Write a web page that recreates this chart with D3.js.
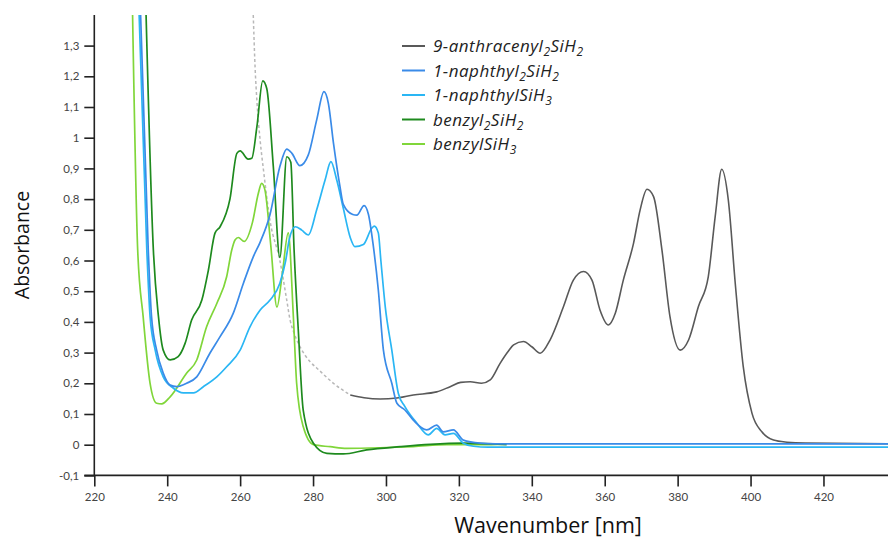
<!DOCTYPE html>
<html>
<head>
<meta charset="utf-8">
<script src="https://cdn.jsdelivr.net/npm/d3@7"></script>
<style>
  html, body { margin: 0; padding: 0; background: #fff; }
  svg { display: block; }
</style>
</head>
<body>
<svg id="chart" width="888" height="539"></svg>
<script>
// UV-Vis absorbance spectra: [wavelength (nm), absorbance]
const anthracenyl2SiH2 = [
  [263.6,1.40],[264.1,1.23],[264.6,1.12],[265.5,0.99],[266.4,0.895],[268.2,0.73],[270.9,0.60],
  [272.8,0.47],[273.7,0.406],[274.6,0.37],[276.4,0.32],[279.2,0.27],[281,0.25],[285.6,0.20],
  [290.2,0.162],[294,0.153],[298.4,0.149],[303,0.152],[307.5,0.162],[313.9,0.172],[317.6,0.189],
  [320.5,0.203],[323.1,0.205],[326.2,0.2],[328.6,0.211],[331.3,0.265],[333.6,0.305],[335,0.325],
  [337.7,0.336],[340,0.319],[342.3,0.298],[345,0.341],[348.7,0.45],[351.4,0.536],[354.2,0.564],
  [356.5,0.536],[358.7,0.439],[361,0.39],[362.9,0.428],[365.1,0.536],[367.9,0.656],[369.7,0.764],
  [371.6,0.832],[373.4,0.808],[375.7,0.634],[377.9,0.417],[380.7,0.308],[383,0.341],[385.7,0.45],
  [388.4,0.547],[390.3,0.743],[392.1,0.897],[393.9,0.797],[395.8,0.526],[398,0.254],[400.4,0.102],
  [403.1,0.042],[406.3,0.015],[410,0.008],[415,0.005],[437.7,0.003]
];
// below this wavelength the anthracenyl trace is drawn dashed
const anthracenylDashedUntil = 290.2;

const naphthyl2SiH2 = [
  [232.7,1.40],[234.8,0.634],[235.7,0.417],[237.1,0.308],[238.9,0.233],[240.8,0.194],[242.6,0.189],
  [245.3,0.2],[248.1,0.221],[251.7,0.298],[254.5,0.352],[258.1,0.428],[260.9,0.526],[263.6,0.612],
  [265.5,0.66],[268.2,0.75],[270.9,0.906],[272.8,0.963],[274.2,0.949],[276.4,0.909],[278.7,0.944],
  [281,1.058],[283,1.15],[284.2,1.112],[285.6,0.982],[287.4,0.84],[288.3,0.783],[290.9,0.75],
  [292,0.748],[294,0.779],[295.2,0.75],[296.5,0.65],[297.9,0.504],[299.3,0.308],[301.6,0.2],
  [303,0.135],[305.2,0.113],[307.5,0.08],[311.2,0.048],[313.9,0.064],[315.7,0.042],[318.5,0.048],
  [321.2,0.015],[325.8,0.005],[330,0.003],[437.7,0.003]
];

const naphthylSiH3 = [
  [232.3,1.40],[234.4,0.634],[235.3,0.417],[236.7,0.308],[238.9,0.221],[241.7,0.184],[244.4,0.169],
  [247.2,0.169],[249.9,0.189],[253.6,0.221],[256.3,0.254],[260,0.308],[262.7,0.384],[265.5,0.439],
  [268.2,0.471],[270.9,0.526],[272.5,0.6],[273.5,0.67],[275.1,0.71],[276.9,0.699],[278.7,0.683],
  [281,0.765],[283.3,0.862],[284.9,0.922],[286.5,0.862],[288.3,0.77],[290.2,0.675],[291.5,0.645],
  [293.8,0.652],[296.1,0.705],[296.8,0.712],[297.9,0.69],[298.6,0.6],[299.8,0.45],[301.6,0.308],
  [303.4,0.167],[305.2,0.124],[308.5,0.07],[311.6,0.032],[313.9,0.053],[316.2,0.032],[318.5,0.037],
  [321.2,0.005],[324,-0.005],[328,-0.008],[437.7,-0.008]
];

const benzyl2SiH2 = [
  [234.2,1.40],[236.2,0.634],[237.6,0.417],[238.9,0.308],[240.8,0.276],[243,0.287],[244.9,0.33],
  [246.7,0.406],[249.5,0.471],[251.3,0.569],[253.1,0.689],[254.5,0.71],[257.2,0.8],[259.1,0.949],
  [260,0.957],[262.2,0.93],[263.2,0.933],[264.6,1.036],[266.2,1.185],[267.3,1.16],[269.1,0.906],
  [270.9,0.61],[272.8,0.938],[273.9,0.92],[274.8,0.634],[276,0.363],[277.3,0.113],[280.1,0.005],
  [283.8,-0.028],[288.3,-0.03],[294.7,-0.017],[303.9,-0.0065],[312.1,0.001],[321.2,0.005],[333.1,0.0]
];

const benzylSiH3 = [
  [230.5,1.40],[231.9,0.634],[233.4,0.417],[235.3,0.2],[237.1,0.135],[238.5,0.133],[240.8,0.156],
  [245.3,0.233],[248.1,0.276],[250.8,0.384],[253.6,0.46],[256.3,0.547],[257.7,0.634],[258.6,0.667],
  [259.5,0.675],[261.1,0.662],[263.4,0.725],[265,0.819],[265.9,0.851],[266.8,0.83],[268.4,0.65],
  [270.1,0.448],[271.5,0.55],[273.2,0.69],[274.6,0.417],[275.5,0.2],[277.3,0.059],[280.1,0.0],
  [284.7,-0.0065],[289.2,-0.012],[298.4,-0.01],[307.5,-0.006],[316.7,0.0],[325.8,0.0],[333,0.002]
];

const xTicks = [220, 240, 260, 280, 300, 320, 340, 360, 380, 400, 420];
const yTicks = [-0.1, 0, 0.1, 0.2, 0.3, 0.4, 0.5, 0.6, 0.7, 0.8, 0.9, 1, 1.1, 1.2, 1.3];

const seriesNames = [
  [["9-anthracenyl"], ["2", "sub"], ["SiH"], ["2", "sub"]],
  [["1-naphthyl"], ["2", "sub"], ["SiH"], ["2", "sub"]],
  [["1-naphthylSiH"], ["3", "sub"]],
  [["benzyl"], ["2", "sub"], ["SiH"], ["2", "sub"]],
  [["benzylSiH"], ["3", "sub"]]
];
const seriesColors = ["#595959", "#3a8be8", "#2ab6f4", "#1e8a1e", "#80d63a"];

const svg = d3.select("#chart");
const plot = { left: 94.3, right: 888, top: 14.9, bottom: 475.4 };

const x = d3.scaleLinear().domain([220, 437.7]).range([plot.left, plot.right]);
const y = d3.scaleLinear().domain([-0.1, 1.4]).range([plot.bottom, plot.top]);

const fmt = v => {
  const r = Math.round(v * 10) / 10;
  return String(r).replace(".", ",");
};

// axes
const xAxis = d3.axisBottom(x).tickValues(xTicks).tickSize(11).tickSizeOuter(0).tickPadding(6).tickFormat(d3.format("d"));
const yAxis = d3.axisLeft(y).tickValues(yTicks).tickSize(10).tickSizeOuter(0).tickPadding(5).tickFormat(fmt);

const gx = svg.append("g").attr("transform", `translate(0,${plot.bottom})`).call(xAxis);
const gy = svg.append("g").attr("transform", `translate(${plot.left},0)`).call(yAxis);

[gx, gy].forEach(g => {
  g.select(".domain").attr("stroke", "#222").attr("stroke-width", 1.6);
  g.selectAll(".tick line").attr("stroke", "#222").attr("stroke-width", 1.6);
  g.selectAll(".tick text").attr("fill", "#444").style("font-family", "Lato, 'Open Sans', sans-serif").style("font-size", "11.5px");
});
// x axis line continues left to the y tick tip
gx.select(".domain").attr("d", `M${plot.left - 10},0H${plot.right}`);
gy.select(".domain").attr("d", `M0,${plot.top}V${plot.bottom}`);

// axis titles
svg.append("text")
  .attr("x", 548).attr("y", 533)
  .attr("text-anchor", "middle")
  .style("font-family", "'Open Sans', sans-serif").style("font-size", "21.5px").attr("fill", "#111")
  .text("Wavenumber [nm]");
svg.append("text")
  .attr("transform", "translate(29,245) rotate(-90)")
  .attr("text-anchor", "middle")
  .style("font-family", "'Open Sans', sans-serif").style("font-size", "19.5px").attr("fill", "#111")
  .text("Absorbance");

// plot area clip
svg.append("clipPath").attr("id", "plotClip")
  .append("rect").attr("x", plot.left).attr("y", plot.top)
  .attr("width", plot.right - plot.left).attr("height", plot.bottom - plot.top);

const line = d3.line().x(d => x(d[0])).y(d => y(d[1])).curve(d3.curveMonotoneX);
const curves = svg.append("g").attr("clip-path", "url(#plotClip)");

// anthracenyl: dashed short-wavelength part, then solid
curves.append("path")
  .datum(anthracenyl2SiH2.filter(d => d[0] <= anthracenylDashedUntil))
  .attr("d", line).attr("fill", "none")
  .attr("stroke", "#b8b8b8").attr("stroke-width", 1.5).attr("stroke-dasharray", "3,2.5");

const drawn = [
  { data: anthracenyl2SiH2.filter(d => d[0] >= anthracenylDashedUntil), color: seriesColors[0], w: 1.6 },
  { data: benzylSiH3, color: seriesColors[4], w: 1.7 },
  { data: benzyl2SiH2, color: seriesColors[3], w: 1.7 },
  { data: naphthylSiH3, color: seriesColors[2], w: 1.7 },
  { data: naphthyl2SiH2, color: seriesColors[1], w: 1.7 }
];
drawn.forEach(s => {
  curves.append("path").datum(s.data).attr("d", line)
    .attr("fill", "none").attr("stroke", s.color).attr("stroke-width", s.w)
    .attr("stroke-linejoin", "round");
});

// legend
const legendRows = [46, 70.5, 95, 119.5, 144];
const legend = svg.append("g");
seriesNames.forEach((parts, i) => {
  const yy = legendRows[i];
  legend.append("line")
    .attr("x1", 402).attr("x2", 425).attr("y1", yy).attr("y2", yy)
    .attr("stroke", seriesColors[i]).attr("stroke-width", 2);
  const t = legend.append("text")
    .attr("x", 433).attr("y", yy + 6)
    .style("font-family", "'Open Sans', Lato, sans-serif").style("font-size", "17px")
    .style("letter-spacing", "0.5px")
    .style("font-style", "italic").attr("fill", "#222");
  let shifted = false;
  parts.forEach(p => {
    const span = t.append("tspan").text(p[0]);
    if (p[1] === "sub") {
      span.attr("dy", shifted ? 0 : 4).style("font-size", "12px");
      shifted = true;
    } else if (shifted) {
      span.attr("dy", -4);
      shifted = false;
    }
  });
});
</script>
</body>
</html>
